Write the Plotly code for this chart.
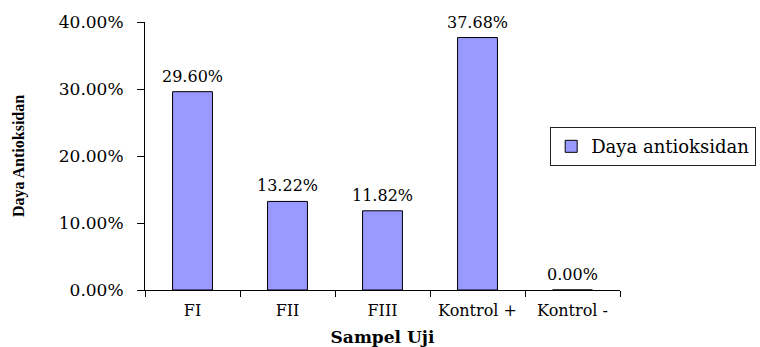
import plotly.graph_objects as go

# Antioxidant activity per test sample
categories = ["FI", "FII", "FIII", "Kontrol +", "Kontrol -"]
values = [0.2960, 0.1322, 0.1182, 0.3768, 0.0000]
y_ticks = [0.0, 0.1, 0.2, 0.3, 0.4]
y_tick_labels = ["0.00%", "10.00%", "20.00%", "30.00%", "40.00%"]

serif = "DejaVu Serif"

fig = go.Figure(
    go.Bar(
        x=categories,
        y=values,
        name="Daya antioksidan",
        marker=dict(color="#9999FF", line=dict(color="black", width=1)),
        cliponaxis=False,
    )
)

# value labels above each bar
for cat, val in zip(categories, values):
    fig.add_annotation(
        x=cat,
        y=val,
        text=f"{val * 100:.2f}%",
        showarrow=False,
        yanchor="bottom",
        yshift=4,
        font=dict(family=serif, size=16, color="black"),
    )

fig.update_layout(
    width=760,
    height=347,
    margin=dict(l=145, r=140, t=22, b=57, autoexpand=False),
    paper_bgcolor="white",
    plot_bgcolor="white",
    bargap=0.58,
    showlegend=True,
    legend=dict(
        x=0.853,
        y=0.535,
        xanchor="left",
        yanchor="middle",
        bordercolor="#222222",
        borderwidth=1,
        bgcolor="white",
        font=dict(family=serif, size=18, color="black"),
        itemwidth=30,
        tracegroupgap=0,
    ),
    xaxis=dict(
        showline=True,
        linecolor="black",
        linewidth=1,
        ticks="outside",
        tickson="boundaries",
        ticklen=6,
        tickcolor="black",
        ticklabelstandoff=6,
        tickfont=dict(family=serif, size=16, color="black"),
        showgrid=False,
        title=dict(
            text="<b>Sampel Uji</b>",
            font=dict(family=serif, size=17, color="black"),
            standoff=12,
        ),
    ),
    yaxis=dict(
        range=[0, 0.4],
        tickvals=y_ticks,
        ticktext=y_tick_labels,
        showline=True,
        linecolor="black",
        linewidth=1,
        ticks="outside",
        ticklen=7,
        tickcolor="black",
        ticklabelstandoff=10,
        tickfont=dict(family=serif, size=17, color="black"),
        showgrid=False,
        zeroline=False,
        title=dict(
            text="<b>Daya Antioksidan</b>",
            font=dict(family="Liberation Serif", size=16, color="black"),
            standoff=30,
        ),
    ),
)

fig.write_html("out.html")
